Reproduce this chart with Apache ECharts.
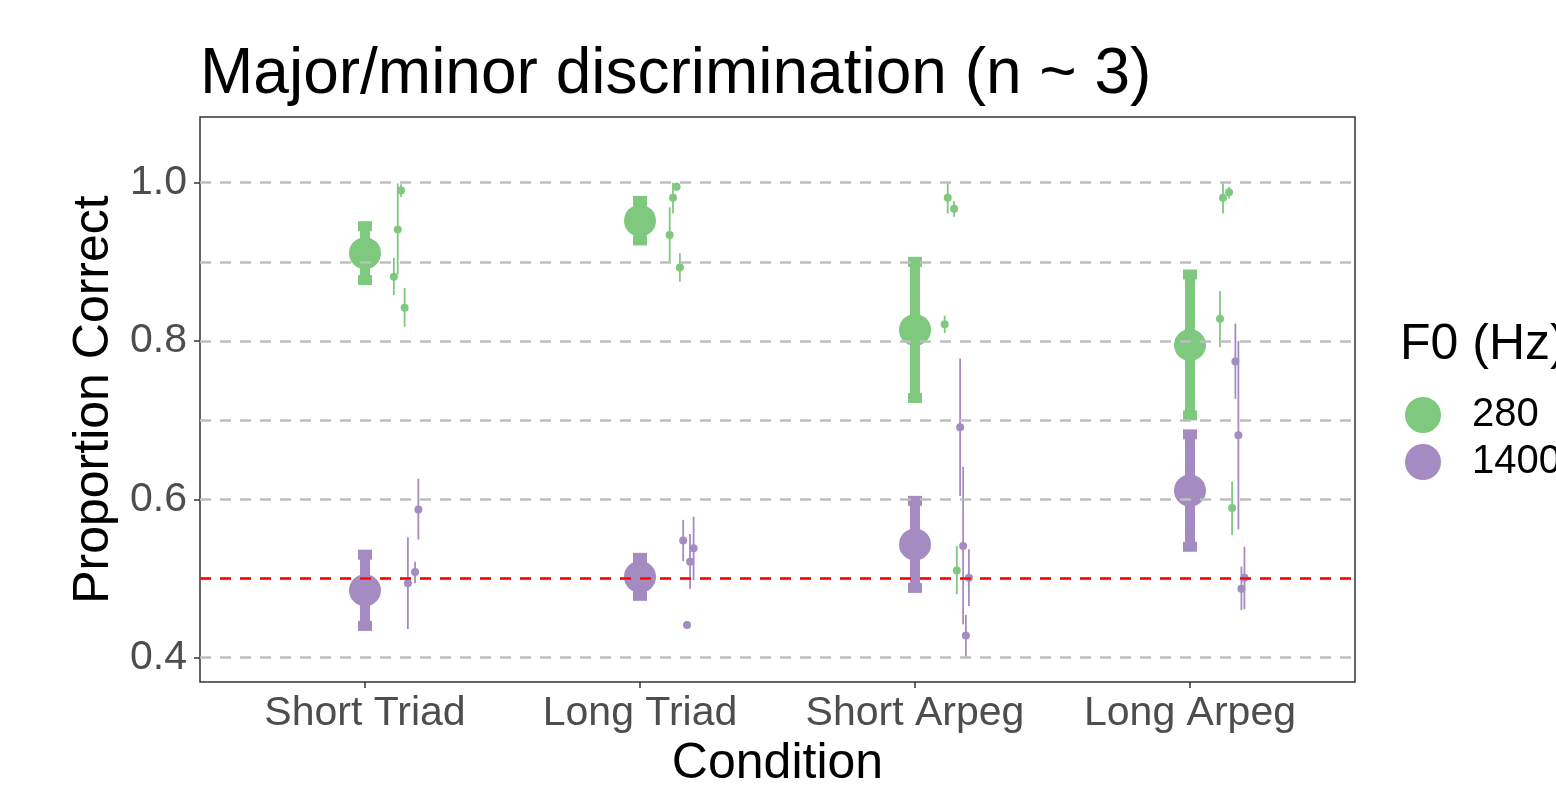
<!DOCTYPE html>
<html>
<head>
<meta charset="utf-8">
<title>Major/minor discrimination</title>
<script src="https://cdn.jsdelivr.net/npm/echarts@6/dist/echarts.min.js"></script>
<style>
  html, body { margin: 0; padding: 0; background: #fff; }
  #chart { width: 1556px; height: 794px; }
</style>
</head>
<body>
<div id="chart"></div>
<script>
// categories + legend levels
const conditions = ['Short Triad', 'Long Triad', 'Short Arpeg', 'Long Arpeg'];
const f0Levels = ['280', '1400'];

// group means and their error (± half range of the thick bar)
const mean280 = [0.911, 0.952, 0.814, 0.795];
const err280 = [0.034, 0.025, 0.086, 0.089];
const mean1400 = [0.485, 0.502, 0.543, 0.611];
const err1400 = [0.045, 0.024, 0.055, 0.071];

// individual listeners: [condition index, jitter, value, low, high]
const ind280 = [
  [0, 0.131, 0.990, 0.982, 0.998],
  [0, 0.119, 0.941, 0.884, 0.999],
  [0, 0.105, 0.881, 0.858, 0.905],
  [0, 0.144, 0.842, 0.818, 0.867],
  [1, 0.133, 0.995, 0.990, 1.000],
  [1, 0.120, 0.981, 0.961, 1.000],
  [1, 0.108, 0.934, 0.899, 0.969],
  [1, 0.145, 0.893, 0.875, 0.911],
  [2, 0.119, 0.981, 0.961, 1.000],
  [2, 0.142, 0.967, 0.957, 0.977],
  [2, 0.108, 0.821, 0.810, 0.832],
  [2, 0.152, 0.510, 0.480, 0.541],
  [3, 0.120, 0.981, 0.961, 1.000],
  [3, 0.142, 0.988, 0.980, 0.995],
  [3, 0.109, 0.828, 0.792, 0.863],
  [3, 0.153, 0.589, 0.555, 0.622]
];
const ind1400 = [
  [0, 0.194, 0.587, 0.549, 0.626],
  [0, 0.156, 0.494, 0.436, 0.552],
  [0, 0.182, 0.508, 0.494, 0.521],
  [1, 0.157, 0.548, 0.522, 0.574],
  [1, 0.195, 0.538, 0.498, 0.578],
  [1, 0.182, 0.521, 0.487, 0.556],
  [1, 0.171, 0.441, 0.441, 0.441],
  [2, 0.164, 0.691, 0.604, 0.778],
  [2, 0.175, 0.541, 0.442, 0.641],
  [2, 0.196, 0.501, 0.465, 0.537],
  [2, 0.185, 0.428, 0.401, 0.454],
  [3, 0.165, 0.774, 0.727, 0.822],
  [3, 0.176, 0.681, 0.562, 0.800],
  [3, 0.198, 0.501, 0.461, 0.540],
  [3, 0.187, 0.487, 0.460, 0.515]
];

// axis breaks
const yLabels = [0.4, 0.6, 0.8, 1.0];
const yGrid = [0.4, 0.5, 0.6, 0.7, 0.8, 0.9, 1.0];
const chance = 0.5;

const colors = { '280': '#7fc97f', '1400': '#a48cc2' };
const font = 'Liberation Sans, Arial, Helvetica, sans-serif';

const meanData = (means, errs) =>
  means.map((m, i) => [i + 1, m, m - errs[i], m + errs[i]]);
const indData = rows =>
  rows.map(r => [r[0] + 1 + r[1], r[2], r[3], r[4]]);

function renderMean(params, api) {
  const c = api.coord([api.value(0), api.value(1)]);
  const top = api.coord([api.value(0), api.value(3)])[1];
  const bot = api.coord([api.value(0), api.value(2)])[1];
  const fill = api.visual('color');
  return {
    type: 'group',
    children: [
      { type: 'rect', shape: { x: c[0] - 5, y: top, width: 10, height: bot - top }, style: { fill } },
      { type: 'rect', shape: { x: c[0] - 7, y: top - 5, width: 14, height: 10 }, style: { fill } },
      { type: 'rect', shape: { x: c[0] - 7, y: bot - 5, width: 14, height: 10 }, style: { fill } },
      { type: 'circle', shape: { cx: c[0], cy: c[1], r: 16 }, style: { fill } }
    ]
  };
}

function renderInd(params, api) {
  const c = api.coord([api.value(0), api.value(1)]);
  const lo = api.coord([api.value(0), api.value(2)])[1];
  const hi = api.coord([api.value(0), api.value(3)])[1];
  const col = api.visual('color');
  return {
    type: 'group',
    children: [
      { type: 'line', shape: { x1: c[0], y1: lo, x2: c[0], y2: hi }, style: { stroke: col, lineWidth: 1.8 } },
      { type: 'circle', shape: { cx: c[0], cy: c[1], r: 4 }, style: { fill: col } }
    ]
  };
}

const chart = echarts.init(document.getElementById('chart'));

const gridLines = yGrid.map(v => ({
  yAxis: v,
  lineStyle: { color: '#bebebe', width: 2.5, type: [11, 9] }
}));
gridLines.push({ yAxis: chance, lineStyle: { color: '#ff0000', width: 2.5, type: [11, 9] } });

chart.setOption({
  animation: false,
  backgroundColor: '#fff',
  title: [
    {
      text: 'Major/minor discrimination (n ~ 3)',
      left: 200, top: 43, padding: 0,
      textStyle: { fontFamily: font, fontSize: 64, fontWeight: 'normal', color: '#000' }
    },
    {
      text: 'F0 (Hz)',
      left: 1400, top: 320, padding: 0,
      textStyle: { fontFamily: font, fontSize: 50, fontWeight: 'normal', color: '#000' }
    }
  ],
  legend: {
    orient: 'vertical',
    left: 1405, top: 395,
    itemWidth: 88, itemHeight: 36, itemGap: 7,
    padding: 0,
    data: f0Levels.map(n => ({ name: n, icon: 'circle' })),
    textStyle: { fontFamily: font, fontSize: 40, color: '#000' }
  },
  grid: {
    left: 200, right: 201, top: 117, bottom: 108,
    show: true, borderColor: '#333', borderWidth: 1.5, backgroundColor: '#fff'
  },
  xAxis: {
    type: 'value', min: 0.4, max: 4.6,
    name: 'Condition', nameLocation: 'middle', nameGap: 54,
    nameTextStyle: { fontFamily: font, fontSize: 50, color: '#000' },
    axisLine: { show: false },
    splitLine: { show: false },
    axisTick: { show: true, customValues: [1, 2, 3, 4], length: 6, lineStyle: { color: '#333', width: 1.5 } },
    axisLabel: {
      customValues: [1, 2, 3, 4], margin: 11,
      formatter: v => conditions[Math.round(v) - 1],
      fontFamily: font, fontSize: 41, color: '#4d4d4d'
    }
  },
  yAxis: {
    type: 'value', min: 0.369, max: 1.083,
    name: 'Proportion Correct', nameLocation: 'middle', nameGap: 78,
    nameTextStyle: { fontFamily: font, fontSize: 50, color: '#000' },
    axisLine: { show: false },
    splitLine: { show: false },
    axisTick: { show: true, customValues: yLabels, length: 6, lineStyle: { color: '#333', width: 1.5 } },
    axisLabel: {
      customValues: yLabels, margin: 13,
      formatter: v => v.toFixed(1),
      fontFamily: font, fontSize: 41, color: '#4d4d4d'
    }
  },
  series: [
    {
      type: 'line', data: [], silent: true, z: 1,
      markLine: { silent: true, symbol: 'none', label: { show: false }, data: gridLines }
    },
    {
      name: '280', type: 'custom', z: 3, itemStyle: { color: colors['280'] },
      renderItem: renderMean, encode: { x: 0, y: 1 }, data: meanData(mean280, err280)
    },
    {
      name: '1400', type: 'custom', z: 3, itemStyle: { color: colors['1400'] },
      renderItem: renderMean, encode: { x: 0, y: 1 }, data: meanData(mean1400, err1400)
    },
    {
      name: '280', type: 'custom', z: 4, itemStyle: { color: colors['280'] },
      renderItem: renderInd, encode: { x: 0, y: 1 }, data: indData(ind280)
    },
    {
      name: '1400', type: 'custom', z: 4, itemStyle: { color: colors['1400'] },
      renderItem: renderInd, encode: { x: 0, y: 1 }, data: indData(ind1400)
    }
  ]
});
</script>
</body>
</html>
